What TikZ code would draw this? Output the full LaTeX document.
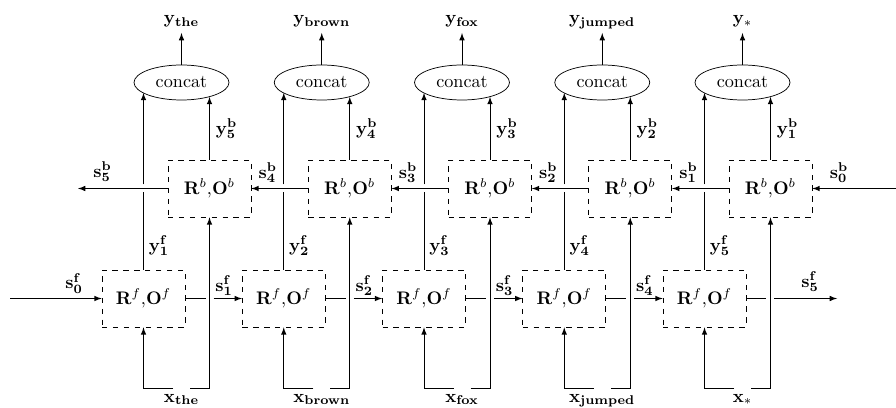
\documentclass[tikz,border=0pt]{standalone}
\usetikzlibrary{shapes.geometric,calc,arrows}
\begin{document}
\begin{tikzpicture}[x=0.55pt,y=-0.55pt,>=latex,
  fbox/.style={draw,dashed,minimum width=45.65pt,minimum height=31.35pt,inner sep=0pt},
  cat/.style={draw,ellipse,minimum width=52.25pt,minimum height=19.25pt,inner sep=0pt},
  lbl/.style={inner sep=0pt}]
\useasboundingbox (0,0) rectangle (896,408);
\foreach \i/\w in {0/the,1/brown,2/fox,3/jumped,4/*}{
  \pgfmathsetmacro\fx{143.5+140.25*\i}
  \pgfmathsetmacro\bx{\fx+66}
  \pgfmathsetmacro\cx{\fx+38}
  \pgfmathtruncatemacro\nf{\i+1}
  \pgfmathtruncatemacro\nb{5-\i}
  \node[fbox] (f\i) at (\fx,298.5) {$\mathbf{R}^f$,$\mathbf{O}^f$};
  \node[fbox] (b\i) at (\bx,188.5) {$\mathbf{R}^b$,$\mathbf{O}^b$};
  \node[cat] (c\i) at (\cx,82.5) {concat};
  \node[anchor=base,lbl] (yo\i) at (\cx,24) {$\mathbf{y}_{\mathbf{\w}}$};
  \node[anchor=base,lbl] (xi\i) at (\cx,402) {$\mathbf{x}_{\mathbf{\w}}$};
  % input brackets
  \coordinate (xl\i) at (\cx-8.5,388);
  \coordinate (xr\i) at (\cx+8.5,388);
  \draw[->] (xl\i) -| (f\i.south);
  \draw[->] (xr\i) -| (b\i.south);
  % outputs
  \coordinate (ga\i) at (\fx,192.5);
  \coordinate (gb\i) at (\fx,184.5);
  \draw (f\i.north) -- (ga\i);
  \draw[->] (gb\i) -- (f\i.north |- c\i.195);
  \draw[->] (b\i.north) -- (b\i.north |- c\i.333);
  \coordinate (yt\i) at (\cx,33);
  \draw[->] (c\i.north) -- (yt\i);
  \node[lbl,anchor=west] at (\fx+5,246) {$\mathbf{y^f_{\nf}}$};
  \node[lbl,anchor=west] at (\bx+6,129) {$\mathbf{y^b_{\nb}}$};
}
% forward state arrows
\foreach \i in {0,...,3}{
  \pgfmathtruncatemacro\j{\i+1}
  \pgfmathsetmacro\bx{143.5+140.25*\i+66}
  \coordinate (fa\i) at (\bx-4,298.5);
  \coordinate (fb\i) at (\bx+4,298.5);
  \draw (f\i.east) -- (fa\i);
  \draw[->] (fb\i) -- (f\j.west);
  \node[lbl] at (\bx+14.5,286) {$\mathbf{s^f_{\j}}$};
}
% backward state arrows
\foreach \i in {1,...,4}{
  \pgfmathtruncatemacro\j{\i-1}
  \pgfmathtruncatemacro\n{5-\i}
  \pgfmathsetmacro\fx{143.5+140.25*\i}
  \draw[->] (b\i.west) -- (b\j.east);
  \node[lbl] at (\fx-16,173) {$\mathbf{s^b_{\n}}$};
}
% ends
\coordinate (sf0) at (10,298.5);
\draw[->] (sf0) -- (f0.west);
\node[lbl] at (74,283.5) {$\mathbf{s^f_0}$};
\coordinate (fa4) at (766,298.5);
\coordinate (fb4) at (774,298.5);
\coordinate (sf5) at (837,298.5);
\draw (f4.east) -- (fa4);
\draw[->] (fb4) -- (sf5);
\node[lbl] at (810,282) {$\mathbf{s^f_5}$};
\coordinate (sb5) at (78,188.5);
\draw[->] (b0.west) -- (sb5);
\node[lbl] at (102.5,172) {$\mathbf{s^b_5}$};
\coordinate (sb0) at (896,188.5);
\draw[->] (sb0) -- (b4.east);
\node[lbl] at (839,173) {$\mathbf{s^b_0}$};
\end{tikzpicture}
\end{document}
